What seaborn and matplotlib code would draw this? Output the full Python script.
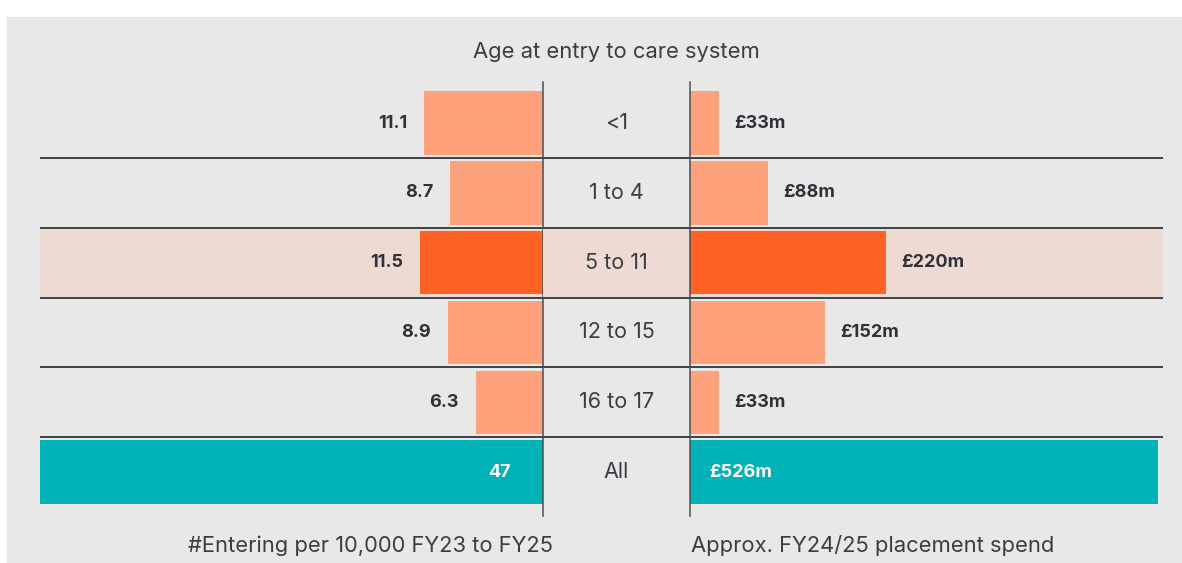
import matplotlib
matplotlib.use('Agg')
from matplotlib import pyplot as plt
from matplotlib.patches import Rectangle
import seaborn as sns

ages = ['<1', '1 to 4', '5 to 11', '12 to 15', '16 to 17', 'All']
entering = [11.1, 8.7, 11.5, 8.9, 6.3, 47]
entering_labels = ['11.1', '8.7', '11.5', '8.9', '6.3', '47']
spend = [33, 88, 220, 152, 33, 526]
spend_labels = ['£33m', '£88m', '£220m', '£152m', '£33m', '£526m']

light = '#ffa27b'
dark = '#ff6224'
teal = '#00b1b6'
colors = [light, light, dark, light, light, teal]
band = '#ecdad3'
panel = '#e8e8e8'
ink = '#2e3138'
grey_txt = '#3a3d43'

sns.set_theme(style='white')
plt.rcParams['font.family'] = ['Inter', 'DejaVu Sans']

W, H = 1182, 563
fig = plt.figure(figsize=(W / 100, H / 100), dpi=100)
fig.patches.append(Rectangle((7 / W, 0), 1 - 7 / W, (H - 17) / H,
                             transform=fig.transFigure, color=panel, zorder=-10))


def px_axes(x0, x1, y0, y1):
    return fig.add_axes([x0 / W, (H - y1) / H, (x1 - x0) / W, (y1 - y0) / H])


ylim = (5.63, -0.59)
y_top, y_bot = 82, 516
ax_l = px_axes(40, 543, y_top, y_bot)
ax_c = px_axes(543, 690, y_top, y_bot)
ax_r = px_axes(690, 1163, y_top, y_bot)

for ax in (ax_l, ax_c, ax_r):
    ax.set_facecolor('none')
    ax.axhspan(1.5, 2.5, color=band, zorder=0, lw=0)
    for yy in [0.5, 1.5, 2.5, 3.5, 4.5]:
        ax.axhline(yy, color='#3d4046', lw=1.4, zorder=1)
    for s in ax.spines.values():
        s.set_visible(False)

sns.barplot(x=entering, y=ages, hue=ages, palette=colors, legend=False,
            orient='h', width=0.91, ax=ax_l, saturation=1, zorder=2,
            edgecolor='none', linewidth=0)
sns.barplot(x=spend, y=ages, hue=ages, palette=colors, legend=False,
            orient='h', width=0.91, ax=ax_r, saturation=1, zorder=2,
            edgecolor='none', linewidth=0)

ax_l.set_xlim(47, 0)
ax_r.set_xlim(0, 473 * 526 / 468)
ax_c.set_xlim(0, 1)
for ax in (ax_l, ax_c, ax_r):
    ax.set_ylim(*ylim)
    ax.set_xticks([])
    ax.set_yticks([])
    ax.set_xlabel('')
    ax.set_ylabel('')

ax_l.spines['right'].set_visible(True)
ax_l.spines['right'].set_color('#4a4d53')
ax_l.spines['right'].set_linewidth(1.1)
ax_r.spines['left'].set_visible(True)
ax_r.spines['left'].set_color('#4a4d53')
ax_r.spines['left'].set_linewidth(1.1)

for i, (v, lab) in enumerate(zip(entering, entering_labels)):
    if ages[i] == 'All':
        ax_l.text(3.0, i, lab, ha='right', va='center', color='white',
                  fontsize=13, fontweight='bold', zorder=3)
    else:
        ax_l.text(v + 1.55, i, lab, ha='right', va='center', color=ink,
                  fontsize=13, fontweight='bold', zorder=3)

for i, (v, lab) in enumerate(zip(spend, spend_labels)):
    if ages[i] == 'All':
        ax_r.text(21, i, lab, ha='left', va='center', color='white',
                  fontsize=13, fontweight='bold', zorder=3)
    else:
        ax_r.text(v + 17, i, lab, ha='left', va='center', color=ink,
                  fontsize=13, fontweight='bold', zorder=3)

for i, a in enumerate(ages):
    ax_c.text(0.5, i, a, ha='center', va='center', color=grey_txt,
              fontsize=15.5, zorder=3)

fig.text(616 / W, 1 - 52 / H, 'Age at entry to care system', ha='center',
         va='center', color=grey_txt, fontsize=15.8)
fig.text(553 / W, 1 - 546 / H, '#Entering per 10,000 FY23 to FY25', ha='right',
         va='center', color=grey_txt, fontsize=15.8)
fig.text(691 / W, 1 - 546 / H, 'Approx. FY24/25 placement spend', ha='left',
         va='center', color=grey_txt, fontsize=15.8)

plt.savefig('out.png', dpi=100)
